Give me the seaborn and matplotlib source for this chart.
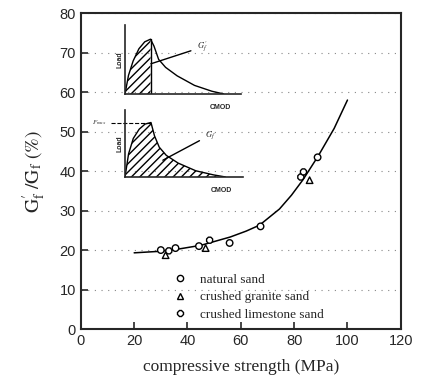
import numpy as np
import pandas as pd
import matplotlib
matplotlib.use("Agg")
import matplotlib.pyplot as plt
import seaborn as sns
from matplotlib.lines import Line2D

# ---- data ----
natural_x = [30.0, 35.5, 44.3, 55.8, 67.4, 88.8]
natural_y = [20.0, 20.5, 21.0, 21.8, 26.0, 43.5]
granite_x = [31.8, 46.8, 85.8]
granite_y = [18.7, 20.5, 37.7]
limestone_x = [33.0, 48.3, 82.5, 83.5]
limestone_y = [19.8, 22.5, 38.5, 39.8]

curve_x = [20, 30, 37, 45, 56, 62, 67, 74.5, 79, 83.3, 89, 95, 100]
curve_y = [19.3, 19.7, 20.3, 21.2, 23.3, 24.8, 26.3, 30.4, 33.9, 37.8, 43.8, 50.8, 58.0]

series_names = ["natural sand", "crushed granite sand", "crushed limestone sand"]
x_ticks = [0, 20, 40, 60, 80, 100, 120]
y_ticks = [0, 10, 20, 30, 40, 50, 60, 70, 80]

# schematic load-CMOD curves of the insets
inset_cmod = [0, 0.03, 0.07, 0.12, 0.17, 0.22, 0.25, 0.29, 0.35, 0.45, 0.6, 0.75, 0.85]
inset1_load = [0, 0.35, 0.62, 0.85, 0.98, 1.03, 0.9, 0.65, 0.5, 0.34, 0.16, 0.05, 0.0]
inset2_load = [0, 0.45, 0.75, 0.93, 1.03, 1.06, 0.8, 0.58, 0.42, 0.27, 0.12, 0.04, 0.0]

sns.set_style("ticks")
plt.rcParams["font.family"] = ["Liberation Sans", "DejaVu Sans"]
plt.rcParams["mathtext.fontset"] = "stix"

df = pd.DataFrame({
    "x": natural_x + granite_x + limestone_x,
    "y": natural_y + granite_y + limestone_y,
    "kind": [series_names[0]] * len(natural_x) + [series_names[1]] * len(granite_x)
            + [series_names[2]] * len(limestone_x),
})
curve = pd.DataFrame({"x": curve_x, "y": curve_y})

fig = plt.figure(figsize=(4.21, 3.88), dpi=100)
ax = fig.add_axes([0.192, 0.152, 0.760, 0.814])

sns.lineplot(data=curve, x="x", y="y", ax=ax, color="black", lw=1.1)
sns.scatterplot(data=df, x="x", y="y", style="kind", hue="kind",
                markers={series_names[0]: "o", series_names[1]: "^", series_names[2]: "8"},
                palette={n: "black" for n in series_names},
                ax=ax, s=22, linewidth=1.0, legend=False, zorder=3)
for c in ax.collections:
    c.set_facecolor("white")
    c.set_edgecolor("black")

ax.set_xlim(0, 120)
ax.set_ylim(0, 80)
ax.set_xticks(x_ticks)
ax.set_yticks(y_ticks)
ax.tick_params(direction="in", length=5, width=1.2, labelsize=10.5)
for s in ax.spines.values():
    s.set_linewidth(1.5)
ax.grid(axis="y", linestyle=(0, (1, 5)), color="#888888", lw=0.8)
ax.set_xlabel("compressive strength (MPa)", fontfamily="Liberation Serif", fontsize=12.5, labelpad=8)
ax.set_ylabel(r"$\mathrm{G_f^{\prime}\ /G_f\ (\%)}$", fontsize=14, labelpad=8)

handles = [Line2D([], [], ls="", marker=m, mfc="white", mec="black", ms=4.5, mew=1)
           for m in ["o", "^", "8"]]
ax.legend(handles, series_names, loc="lower left", bbox_to_anchor=(0.245, 0.0),
          frameon=False, prop={"family": "Liberation Serif", "size": 9.5},
          handletextpad=0.5, labelspacing=0.42, borderaxespad=0.2)


def draw_inset(rect, load, upto, label, label_xy, arrow_from, fmax=False):
    ia = fig.add_axes(rect)
    ia.plot(inset_cmod, load, color="black", lw=1.0)
    xs = np.array(inset_cmod)
    ys = np.array(load)
    if upto is not None:
        m = xs <= upto
        ia.fill_between(xs[m], ys[m], 0, facecolor="none", hatch="////", edgecolor="black", lw=0)
        ia.plot([upto, upto], [0, ys[m][-1]], color="black", lw=1.0)
    else:
        ia.fill_between(xs, ys, 0, facecolor="none", hatch="////", edgecolor="black", lw=0)
    ia.set_xlim(0, 1)
    ia.set_ylim(0, 1.3)
    ia.set_xticks([]); ia.set_yticks([])
    ia.patch.set_alpha(0)
    for k in ["top", "right"]:
        ia.spines[k].set_visible(False)
    for k in ["left", "bottom"]:
        ia.spines[k].set_linewidth(1.2)
    ia.set_ylabel("Load", fontsize=5, fontweight="bold", labelpad=1)
    ia.text(0.82, -0.22, "CMOD", fontsize=5, fontweight="bold", transform=ia.transAxes, ha="center")
    ia.annotate(label, xy=arrow_from, xytext=label_xy, fontsize=6,
                arrowprops=dict(arrowstyle="-", color="black", lw=1.0), va="center")
    if fmax:
        ia.plot([-0.12, 0.22], [1.06, 1.06], color="black", lw=0.8, ls="--", clip_on=False)
        ia.text(-0.16, 1.06, r"$F_{max}$", fontsize=5, ha="right", va="center")


draw_inset([0.297, 0.758, 0.275, 0.178], inset1_load, 0.22, r"$G_f^{\prime}$", (0.62, 0.88), (0.2, 0.55))
draw_inset([0.297, 0.544, 0.280, 0.172], inset2_load, None, r"$G_f$", (0.68, 0.82), (0.3, 0.3), fmax=True)

fig.savefig("out.png", dpi=100)
